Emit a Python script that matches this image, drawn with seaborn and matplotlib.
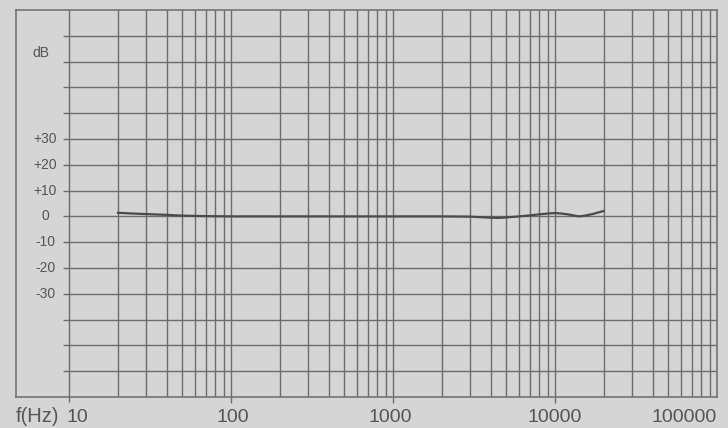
import numpy as np
import pandas as pd
import matplotlib
matplotlib.use("Agg")
import matplotlib.pyplot as plt
import matplotlib.transforms as mtransforms
import seaborn as sns

# ---- data ----
freq_hz = [20, 25, 30, 40, 50, 70, 100, 200, 500, 1000, 2000, 3000, 4000,
           4500, 5000, 6000, 7000, 8000, 9000, 10000, 11000, 12000, 14000,
           15000, 17000, 20000]
level_db = [1.4, 1.1, 0.9, 0.6, 0.3, 0.1, 0.0, 0.0, 0.0, 0.0, 0.0, -0.1, -0.5,
            -0.6, -0.4, 0.0, 0.4, 0.8, 1.1, 1.3, 1.1, 0.8, 0.0,
            0.2, 0.9, 2.1]

y_tick_values = [30, 20, 10, 0, -10, -20, -30]
y_tick_labels = ["+30", "+20", "+10", "0", "-10", "-20", "-30"]
x_tick_values = [10, 100, 1000, 10000, 100000]
x_tick_labels = ["10", "100", "1000", "10000", "100000"]

BG = "#d5d5d5"
GRID = "#6c6c6c"
TXT = "#555555"
CURVE = "#4a4a4a"

sns.set_theme(style="white", rc={"figure.facecolor": BG, "axes.facecolor": BG})
plt.rcParams["font.family"] = ["Liberation Sans", "DejaVu Sans"]

W, H = 728, 428
fig = plt.figure(figsize=(W / 100, H / 100), dpi=100)
left_px, right_px, top_px, bot_px = 16, 717, 10, 397
ax = fig.add_axes([left_px / W, 1 - bot_px / H, (right_px - left_px) / W, (bot_px - top_px) / H])

ax.set_xscale("log")
x_left = 10 ** (1 - (69 - left_px) / 162.0)
ax.set_xlim(x_left, 100000)
ax.set_ylim(-70, 80)

# vertical grid lines (1..9 per decade)
vlines = [m * 10 ** d for d in range(1, 5) for m in range(1, 10)]
ax.vlines(vlines[1:], -70, 80, color=GRID, lw=1.0, zorder=1)
ax.vlines([10], -71.8, 80, color=GRID, lw=1.0, zorder=1, clip_on=False)
# horizontal grid lines
x_hstart = 10 ** (1 - (69 - 63) / 162.0)
ax.hlines(np.arange(-60, 80, 10), x_hstart, 100000, color=GRID, lw=1.0, zorder=1)

# small ticks below the frame at decades
ax.set_xticks([100, 1000, 10000])
ax.set_xticklabels([])
ax.xaxis.set_minor_locator(matplotlib.ticker.NullLocator())
ax.tick_params(axis="x", which="major", direction="out", length=4, width=1.0,
               color=GRID, bottom=True)
ax.set_yticks([])

for s in ax.spines.values():
    s.set_color(GRID)
    s.set_linewidth(1.1)

df = pd.DataFrame({"f": freq_hz, "db": level_db})
sns.lineplot(data=df, x="f", y="db", ax=ax, color=CURVE, lw=1.6, zorder=3)
ax.set_xlabel("")
ax.set_ylabel("")

# y labels inside frame
tr_y = mtransforms.blended_transform_factory(ax.transAxes, ax.transData)
xlab = (45 - left_px) / (right_px - left_px)
for v, lab in zip(y_tick_values, y_tick_labels):
    ax.text(xlab, v, lab, transform=tr_y, ha="center", va="center",
            fontsize=10, color=TXT)
ax.text((41 - left_px) / (right_px - left_px), 63.5, "dB", transform=tr_y,
        ha="center", va="center", fontsize=10, color=TXT)

# x labels below
tr_x = mtransforms.blended_transform_factory(ax.transData, ax.transAxes)
yl = -(417 - bot_px) / (bot_px - top_px)
aligns = ["left", "center", "center", "center", "right"]
offsets = [-0.014, 0.01, -0.015, 0.0, 0.0]
for v, lab, a, o in zip(x_tick_values, x_tick_labels, aligns, offsets):
    ax.text(v * 10 ** o, yl, lab, transform=tr_x, ha=a, va="center",
            fontsize=14, color=TXT)
ax.text(0.0, yl, "f(Hz)", transform=ax.transAxes, ha="left", va="center",
        fontsize=14.5, color=TXT)

fig.savefig("out.png", dpi=100, facecolor=BG)
